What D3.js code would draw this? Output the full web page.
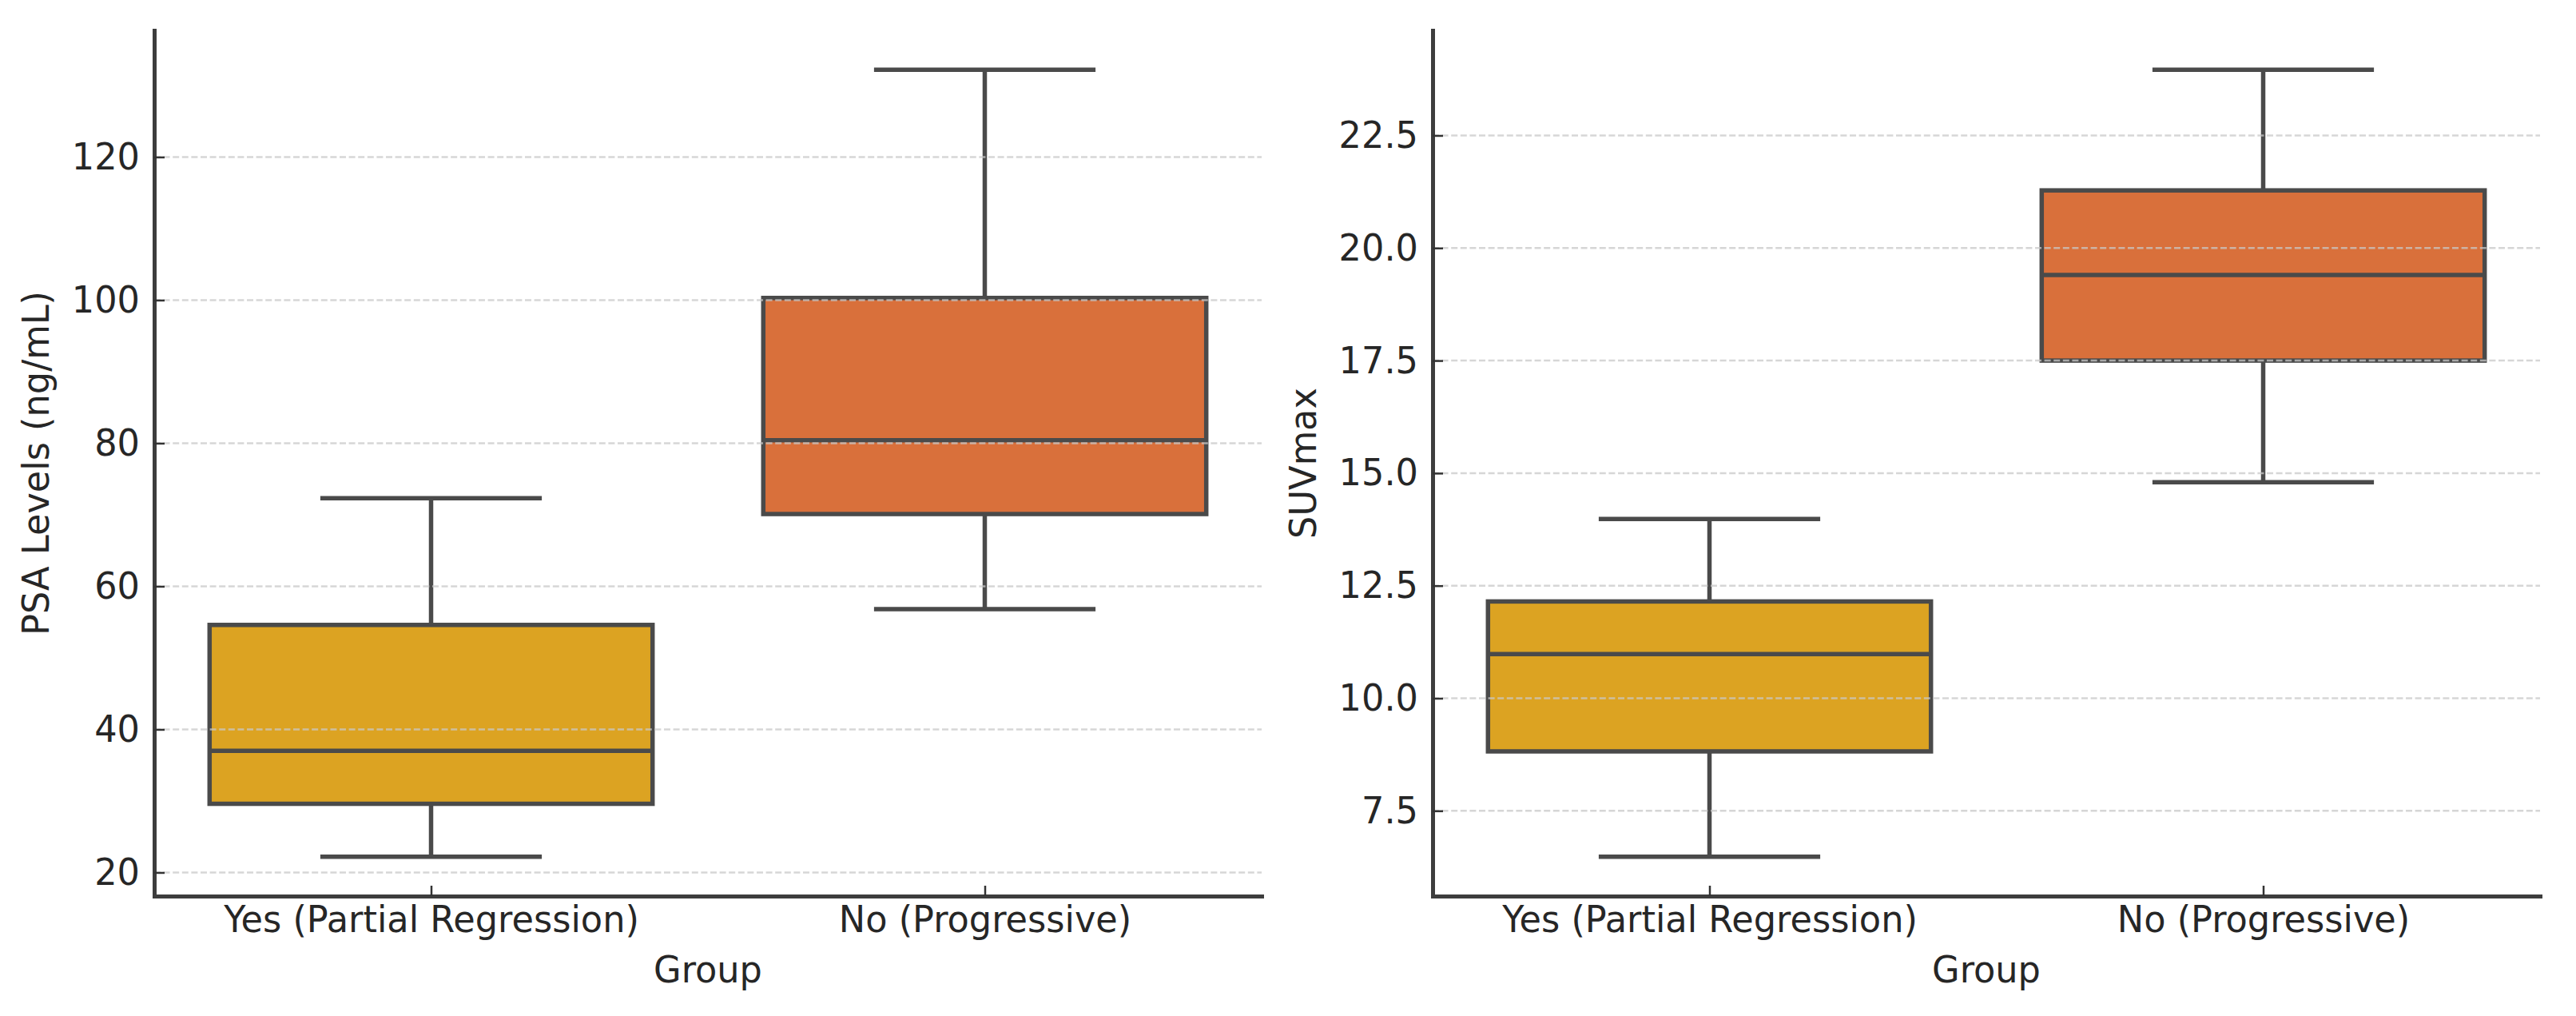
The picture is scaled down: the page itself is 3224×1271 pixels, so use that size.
<!DOCTYPE html>
<html>
<head>
<meta charset="utf-8">
<script src="https://cdn.jsdelivr.net/npm/d3@7"></script>
<style>
  body { margin: 0; background: #fff; }
  svg { display: block; }
</style>
</head>
<body>
<svg id="chart" width="3224" height="1271"></svg>
<script>
// categories
const groups = ['Yes (Partial Regression)', 'No (Progressive)'];

// box stats: lower whisker, Q1, median, Q3, upper whisker
const psaYes = [22.2, 29.6, 37.0, 54.6, 72.3];
const psaNo = [56.8, 70.1, 80.4, 100.3, 132.2];
const suvYes = [6.48, 8.82, 10.98, 12.15, 13.98];
const suvNo = [14.8, 17.5, 19.4, 21.28, 23.96];

// tick labels
const psaTicks = [20, 40, 60, 80, 100, 120];
const suvTicks = [7.5, 10, 12.5, 15, 17.5, 20, 22.5];

const colors = ['#dca322', '#d9703b'];

const W = 3224, H = 1271;
const plotTop = 38, plotBottom = 1121;
const FS = 47;        // font size
const SX = 0.95;      // the text in the source is a bit narrow
const ink = '#262626', lineCol = '#4a4a4a';

const panels = [
  { x0: 193, x1: 1579, label: 'PSA Levels (ng/mL)', stats: [psaYes, psaNo], ticks: psaTicks, fmt: d3.format('d') },
  { x0: 1793, x1: 3179, label: 'SUVmax', stats: [suvYes, suvNo], ticks: suvTicks, fmt: d3.format('.1f') }
];

const svg = d3.select('#chart');
svg.append('rect').attr('width', W).attr('height', H).attr('fill', '#fff');

function squeeze(sel) {
  sel.each(function() {
    const t = d3.select(this);
    t.attr('x', (+t.attr('x') || 0) / SX).attr('transform', `scale(${SX},1)`);
  });
}

panels.forEach(p => {
  const g = svg.append('g');

  // matplotlib style 5% margin round the data
  const lo = d3.min(p.stats, d => d[0]);
  const hi = d3.max(p.stats, d => d[4]);
  const pad = (hi - lo) * 0.05;
  const y = d3.scaleLinear().domain([lo - pad, hi + pad]).range([plotBottom, plotTop]);
  const x = d3.scalePoint().domain(groups).range([p.x0, p.x1]).padding(0.5);

  const boxW = x.step() * 0.8;
  const capW = boxW * 0.5;

  const items = groups.map((k, i) => ({ k, s: p.stats[i], c: colors[i] }));

  const box = g.selectAll('g.box')
    .data(items)
    .join('g')
    .attr('class', 'box')
    .attr('stroke', lineCol)
    .attr('stroke-width', 5.5);

  // whiskers
  box.append('line')
    .attr('x1', d => x(d.k)).attr('x2', d => x(d.k))
    .attr('y1', d => y(d.s[0])).attr('y2', d => y(d.s[1]));
  box.append('line')
    .attr('x1', d => x(d.k)).attr('x2', d => x(d.k))
    .attr('y1', d => y(d.s[3])).attr('y2', d => y(d.s[4]));

  // caps
  [0, 4].forEach(j => {
    box.append('line')
      .attr('x1', d => x(d.k) - capW / 2).attr('x2', d => x(d.k) + capW / 2)
      .attr('y1', d => y(d.s[j])).attr('y2', d => y(d.s[j]));
  });

  // box
  box.append('rect')
    .attr('x', d => x(d.k) - boxW / 2)
    .attr('width', boxW)
    .attr('y', d => y(d.s[3]))
    .attr('height', d => y(d.s[1]) - y(d.s[3]))
    .attr('fill', d => d.c);

  // median
  box.append('line')
    .attr('x1', d => x(d.k) - boxW / 2).attr('x2', d => x(d.k) + boxW / 2)
    .attr('y1', d => y(d.s[2])).attr('y2', d => y(d.s[2]));

  // dashed horizontal grid, drawn over the boxes like the source
  g.append('g')
    .selectAll('line')
    .data(p.ticks)
    .join('line')
    .attr('x1', p.x0).attr('x2', p.x1)
    .attr('y1', d => y(d)).attr('y2', d => y(d))
    .attr('stroke', '#c8c8c8')
    .attr('stroke-opacity', 0.75)
    .attr('stroke-width', 2.5)
    .attr('stroke-dasharray', '8,3.6');

  // y axis
  const ay = g.append('g')
    .attr('transform', `translate(${p.x0},0)`)
    .call(d3.axisLeft(y).tickValues(p.ticks).tickFormat(p.fmt)
      .tickSizeInner(-13).tickSizeOuter(0).tickPadding(18));

  // x axis
  const ax = g.append('g')
    .attr('transform', `translate(0,${plotBottom})`)
    .call(d3.axisBottom(x).tickSizeInner(-13).tickSizeOuter(0).tickPadding(12));

  [ay, ax].forEach(a => {
    a.attr('font-family', null).attr('font-size', null);
    a.select('.domain').attr('stroke', '#3d3d3d').attr('stroke-width', 5).attr('stroke-linecap', 'square');
    a.selectAll('.tick line').attr('stroke', '#333').attr('stroke-width', 2.5);
    a.selectAll('text')
      .style('font-family', '"DejaVu Sans", sans-serif')
      .style('font-size', FS + 'px')
      .attr('fill', ink);
    squeeze(a.selectAll('text'));
  });

  // y axis title sits just left of the tick labels
  const bb = ay.node().getBBox();
  const lx = p.x0 + bb.x - 29;
  g.append('text')
    .attr('transform', `translate(${lx},${(plotTop + plotBottom) / 2}) rotate(-90) scale(${SX},1)`)
    .attr('text-anchor', 'middle')
    .style('font-family', '"DejaVu Sans", sans-serif')
    .style('font-size', FS + 'px')
    .attr('fill', ink)
    .text(p.label);

  // x axis title
  g.append('text')
    .attr('transform', `translate(${(p.x0 + p.x1) / 2},1229) scale(${SX},1)`)
    .attr('text-anchor', 'middle')
    .style('font-family', '"DejaVu Sans", sans-serif')
    .style('font-size', FS + 'px')
    .attr('fill', ink)
    .text('Group');
});
</script>
</body>
</html>
